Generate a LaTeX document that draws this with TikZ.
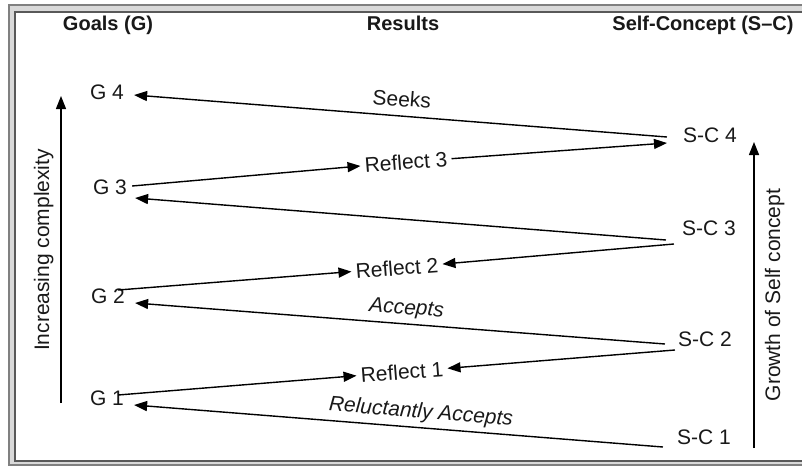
\documentclass[tikz,border=0pt]{standalone}
\usepackage{fontspec}
\setmainfont{Liberation Sans}
\usetikzlibrary{arrows.meta}

\begin{document}
\begin{tikzpicture}[x=1pt,y=-1pt,
	lbl/.style={font=\fontsize{21}{25}\selectfont, text=black!90},
	head/.style={font=\fontsize{20}{24}\selectfont\bfseries, text=black!90, anchor=base},
	goal/.style={lbl, inner ysep=0pt, inner xsep=10pt},
	selfc/.style={lbl, inner ysep=0pt, inner xsep=16pt},
	refl/.style={lbl, inner sep=4pt, rotate=4.5},
	on/.style={lbl, sloped, inner sep=0pt, text depth=0pt, above=9pt},
	conn/.style={line width=1.4pt, -{Triangle[length=13pt,width=10pt]}},
	rconn/.style={line width=1.4pt, {Triangle[length=13pt,width=10pt]}-}]
		\def\outerframe{(9,5) rectangle (830,465)}
		\def\innerframe{(15,12) rectangle (830,461)}
		\useasboundingbox (0,0) rectangle (802,466);
		\clip (0,0) rectangle (802,466);
		\draw[line width=1.5pt, draw=gray, fill=gray!30] \outerframe;
		\draw[line width=1.5pt, draw=black!65, fill=white] \innerframe;
		\node[head] (goals) at (108,30) {Goals (G)};
		\node[head] (results) at (403,30) {Results};
		\node[head] (selfcon) at (703,30) {Self-Concept (S–C)};
		\node[goal] (G4) at (107,92) {G 4};
		\node[goal] (G3) at (110,187) {G 3};
		\node[goal] (G2) at (108,296) {G 2};
		\node[goal] (G1) at (107,398) {G 1};
		\node[selfc] (SC4) at (710,135) {S-C 4};
		\node[selfc] (SC3) at (709,228) {S-C 3};
		\node[selfc] (SC2) at (705,339) {S-C 2};
		\node[selfc] (SC1) at (704,437) {S-C 1};
		\node[refl] (R3) at (406,162) {Reflect 3};
		\node[refl] (R2) at (397,268) {Reflect 2};
		\node[refl] (R1) at (402,372) {Reflect 1};
		\draw[rconn] ([yshift=-3pt]G4.east) -- node[on]{Seeks} ([yshift=-2pt]SC4.west);
		\draw[conn] ([xshift=-5pt,yshift=1pt]G3.east) -- (R3);
		\draw[conn] (R3) -- ([yshift=-8pt]SC4.west);
		\draw[rconn] ([xshift=-2pt,yshift=-11pt]G3.east) -- ([yshift=-12pt]SC3.west);
		\draw[conn] ([xshift=8pt,yshift=-16pt]SC3.west) -- (R2);
		\draw[conn] ([xshift=-17pt,yshift=6pt]G2.east) -- (R2);
		\draw[rconn] ([yshift=-7pt]G2.east) -- node[on, pos=0.51]{\itshape Accepts} ([xshift=3pt,yshift=-5pt]SC2.west);
		\draw[conn] ([xshift=13pt,yshift=-11pt]SC2.west) -- (R1);
		\draw[conn] ([xshift=-16pt,yshift=3pt]G1.east) -- (R1);
		\draw[rconn] ([yshift=-7pt]G1.east) -- node[on, pos=0.54]{\itshape Reluctantly Accepts} ([xshift=2pt,yshift=-10pt]SC1.west);
		\coordinate (cxlow) at (61,403);
		\coordinate (cxtop) at (61,96);
		\coordinate (grlow) at (754,448);
		\coordinate (grtop) at (754,142);
		\draw[conn] (cxlow) -- (cxtop);
		\draw[conn] (grlow) -- (grtop);
		\node[lbl, rotate=90, anchor=base] (cxtext) at (49,250) {Increasing complexity};
		\node[lbl, rotate=90, anchor=base] (grtext) at (780,295) {Growth of Self concept};
	\end{tikzpicture}
\end{document}
